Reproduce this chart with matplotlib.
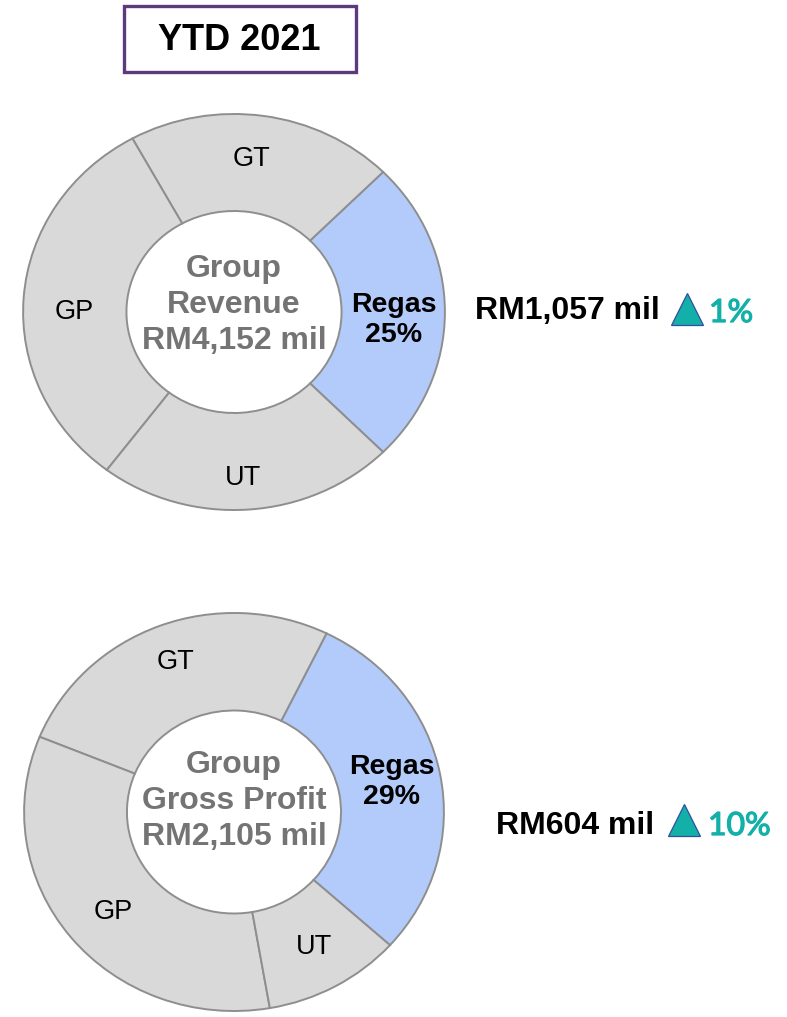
import matplotlib
matplotlib.use("Agg")
import matplotlib.pyplot as plt
import matplotlib.patheffects as pe
from matplotlib.patches import Rectangle

plt.rcParams["font.family"] = ["Liberation Sans", "DejaVu Sans"]

OUT_PATH = "out.png"
W, H = 787, 1017

# data
segments = ["Regas", "GT", "GP", "UT"]
revenue_share = [25.0, 20.5, 31.7, 22.8]
gross_profit_share = [29.4, 26.1, 33.9, 10.6]

center_titles = ["Group\nRevenue\nRM4,152 mil", "Group\nGross Profit\nRM2,105 mil"]
regas_values = ["RM1,057 mil", "RM604 mil"]
regas_growth = ["1%", "10%"]

GRAY = "#d9d9d9"
BLUE = "#b3cbfa"
EDGE = "#8e8e8e"
TEAL = "#12b0a9"

fig = plt.figure(figsize=(W / 100, H / 100), dpi=100)

# overlay axes in pixel coordinates for the free text
ov = fig.add_axes([0, 0, 1, 1])
ov.set_xlim(0, W)
ov.set_ylim(H, 0)
ov.axis("off")

ov.add_patch(Rectangle((124, 6), 232, 66, fill=False, edgecolor="#5c3b7d", linewidth=2.4))
ov.text(239, 40, "YTD 2021", ha="center", va="center", fontsize=26, fontweight="bold")


def donut(cx, cy, rx, ry, values, start, title, title_y, label_pos, regas_label):
    ax = fig.add_axes([(cx - rx) / W, 1 - (cy + ry) / H, 2 * rx / W, 2 * ry / H])
    colors = [BLUE] + [GRAY] * (len(values) - 1)
    ax.pie(values, startangle=start, counterclock=True, colors=colors, radius=1,
           wedgeprops=dict(width=0.49, edgecolor=EDGE, linewidth=1.4))
    ax.set_aspect("auto")
    ax.set_xlim(-1.01, 1.01)
    ax.set_ylim(-1.01, 1.01)
    for name, (x, y) in zip(segments[1:], label_pos[1:]):
        ax.text(x, y, name, ha="center", va="center", fontsize=19.5)
    x, y = label_pos[0]
    ax.text(x, y, "Regas\n" + regas_label, ha="center", va="center", fontsize=20.5,
            fontweight="bold", linespacing=1.2)
    ax.text(0, title_y, title, ha="center", va="center", fontsize=23, fontweight="bold",
            color="#747474", linespacing=1.25)
    return ax


donut(234, 312, 213, 200, revenue_share, -45, center_titles[0], 0.035,
      [(0.756, -0.04), (0.085, 0.775), (-0.76, 0.0), (0.042, -0.84)],
      f"{revenue_share[0]:.0f}%")
donut(234, 812, 212, 201, gross_profit_share, -42, center_titles[1], 0.055,
      [(0.75, 0.15), (-0.28, 0.756), (-0.575, -0.5), (0.38, -0.68)],
      f"{gross_profit_share[0]:.0f}%")

# right hand annotations
thick = [pe.withStroke(linewidth=0.9, foreground=TEAL)]
ov.text(660, 311, regas_values[0], ha="right", va="center", fontsize=23, fontweight="bold")
ov.plot([686.5], [309], marker="^", markersize=22.5, color=TEAL,
        markeredgecolor="#2f4f9f", markeredgewidth=0.9, clip_on=False)
ov.text(709, 313, regas_growth[0], ha="left", va="center", fontsize=23, color=TEAL,
        family=["Lato", "DejaVu Sans"], path_effects=thick)

ov.text(654, 826, regas_values[1], ha="right", va="center", fontsize=23, fontweight="bold")
ov.plot([683.5], [820], marker="^", markersize=23, color=TEAL,
        markeredgecolor="#2f4f9f", markeredgewidth=0.9, clip_on=False)
ov.text(708, 826, regas_growth[1], ha="left", va="center", fontsize=23, color=TEAL,
        family=["Lato", "DejaVu Sans"], path_effects=thick)

fig.savefig(OUT_PATH, dpi=100)
